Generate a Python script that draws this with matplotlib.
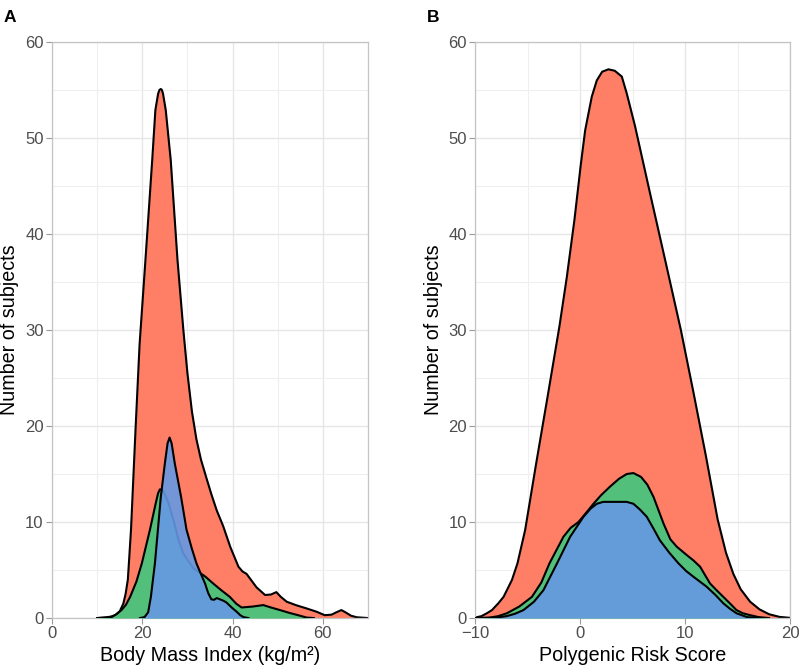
import matplotlib
matplotlib.use("Agg")
import matplotlib.pyplot as plt
from matplotlib.ticker import MultipleLocator

plt.rcParams["font.family"] = ["Liberation Sans", "DejaVu Sans"]

# --- Panel A: Body Mass Index densities ---
bmi_red_x = [10, 11.7, 13.0, 14.0, 15.0, 15.8, 16.3, 16.8, 17.1, 17.5, 18.5, 19.4, 20.7,
             22.2, 22.9, 23.5, 23.8, 24.1, 24.35, 24.6, 25.2, 26.3, 27.8, 29.1, 30.0,
             31.0, 32.0, 33.0, 34.2, 35.3, 36.5, 37.9, 39.5, 41.3, 42.2, 43.1, 44.2,
             45.3, 47.2, 48.5, 49.7, 50.7, 52.0, 54.0, 56.4, 58.6, 60.4, 61.9, 63.0,
             64.1, 65.0, 66.2, 67.5, 70]
bmi_red_y = [0, 0.05, 0.15, 0.3, 0.7, 1.5, 2.5, 4.0, 6.2, 9.2, 19.6, 28.5, 37.3,
             47.7, 52.9, 54.6, 55.0, 55.1, 55.0, 54.6, 52.9, 47.7, 37.3, 30.0, 25.5,
             21.5, 18.6, 16.5, 14.6, 12.9, 11.2, 9.6, 7.4, 5.35, 4.85, 4.6, 3.9,
             3.2, 2.4, 2.45, 2.7, 2.2, 1.7, 1.35, 1.0, 0.66, 0.3, 0.35, 0.6,
             0.83, 0.6, 0.25, 0.08, 0]

bmi_green_x = [10, 13.2, 14.3, 15.4, 16.4, 17.3, 18.7, 19.9, 21.7, 23.0, 23.5, 23.9,
               24.4, 24.8, 25.8, 26.9, 28.0, 29.1, 31.3, 32.8, 34.0, 35.7, 37.5,
               39.4, 40.8, 42.0, 44.5, 46.8, 48.5, 50.5, 52.5, 54.5, 56.4, 58]
bmi_green_y = [0, 0.1, 0.4, 0.83, 1.4, 2.2, 3.8, 5.7, 9.2, 12.0, 13.0, 13.4,
               13.35, 13.1, 12.0, 10.2, 8.2, 6.7, 5.2, 4.7, 4.3, 3.6, 2.9,
               2.2, 1.5, 1.1, 1.2, 1.35, 1.1, 0.83, 0.55, 0.3, 0.05, 0]

bmi_blue_x = [19.5, 20.5, 21.3, 21.9, 22.8, 24.1, 25.0, 25.6, 26.05, 26.5, 27.2, 28.6,
              29.8, 31.0, 32.0, 32.8, 33.9, 34.6, 35.3, 35.9, 36.5, 37.2, 38.0, 38.7,
              39.8, 40.9, 41.7, 42.4, 43.5]
bmi_blue_y = [0, 0.1, 0.6, 2.2, 5.7, 12.6, 16.1, 18.2, 18.8, 18.2, 16.1, 12.6,
              9.2, 7.2, 5.7, 4.8, 3.6, 2.6, 1.95, 1.9, 2.08, 1.95, 1.8, 1.6,
              1.1, 0.66, 0.3, 0.1, 0]

# --- Panel B: Polygenic Risk Score densities ---
prs_red_x = [-10, -9.4, -8.9, -8.4, -7.8, -7.3, -6.5, -5.97, -5.24, -4.19, -3.11,
             -1.97, -1.27, -0.54, 0.06, 0.48, 1.11, 1.59, 2.1, 2.7, 3.3, 3.97, 4.44,
             5.24, 6.67, 8.1, 9.6, 10.8, 12.0, 13.1, 13.9, 14.6, 15.3, 16.2,
             17.1, 18.0, 19.0, 20]
prs_red_y = [0.05, 0.2, 0.49, 0.83, 1.53, 2.2, 3.96, 5.7, 9.17, 16.1, 23.0,
             30.4, 35.5, 41.5, 47.2, 50.8, 54.3, 56.0, 56.9, 57.15, 57.0, 56.4, 54.65,
             51.2, 44.2, 37.3, 30.0, 23.5, 16.8, 10.3, 6.8, 4.6, 3.0, 1.7,
             0.9, 0.4, 0.12, 0.02]

prs_green_x = [-10, -8.6, -7.8, -6.98, -5.8, -4.6, -3.7, -2.92, -2.2, -1.59, -0.9,
               -0.16, 0.6, 1.27, 2.0, 2.86, 3.7, 4.44, 5.08, 5.8, 6.4, 7.0, 7.94,
               8.6, 9.21, 10.16, 10.8, 11.43, 12.38, 13.0, 13.65, 14.3, 14.9, 15.5,
               16.2, 17.0, 18]
prs_green_y = [0, 0.05, 0.2, 0.5, 1.2, 2.2, 3.7, 5.7, 7.2, 8.47, 9.4,
               10.0, 11.0, 11.9, 12.8, 13.7, 14.5, 15.0, 15.1, 14.7, 13.9, 12.6, 9.86,
               8.2, 7.43, 6.56, 6.0, 5.35, 3.6, 2.9, 2.2, 1.5, 0.83, 0.5,
               0.3, 0.1, 0]

prs_blue_x = [-9, -8, -7, -6.2, -5.4, -4.4, -3.5, -2.2, -0.95, 0.32, 1.0, 1.59, 2.2,
              3.5, 4.44, 5.08, 5.7, 6.35, 7.0, 7.6, 8.5, 9.37, 10.1, 10.8, 12.06,
              12.9, 13.65, 14.3, 14.9, 15.9, 17]
prs_blue_y = [0, 0.05, 0.2, 0.45, 0.83, 1.7, 2.9, 5.7, 8.47, 10.55, 11.4, 11.9, 12.1,
              12.1, 12.1, 11.9, 11.3, 10.55, 9.3, 8.1, 6.8, 5.7, 4.9, 4.3, 3.26,
              2.4, 1.53, 0.95, 0.5, 0.1, 0]

RED, GREEN, BLUE = "#FF7E66", "#52C07A", "#6598E3"
GRID = "#E6E6E6"
FRAME = "#C4C4C4"


def style_axes(ax, xlim, xmajor, xlabel):
    ax.set_xlim(*xlim)
    ax.set_ylim(0, 60)
    ax.xaxis.set_major_locator(MultipleLocator(xmajor))
    ax.xaxis.set_minor_locator(MultipleLocator(xmajor / 2))
    ax.yaxis.set_major_locator(MultipleLocator(10))
    ax.yaxis.set_minor_locator(MultipleLocator(5))
    ax.grid(which="major", color=GRID, linewidth=1.0)
    ax.grid(which="minor", color="#EFEFEF", linewidth=0.8)
    ax.set_axisbelow(True)
    for side in ax.spines.values():
        side.set_color(FRAME)
        side.set_linewidth(0.9)
    ax.tick_params(which="major", direction="out", length=4, width=0.8,
                   color="#999999", labelcolor="#4D4D4D", labelsize=12, pad=2)
    ax.tick_params(which="minor", length=0)
    ax.set_xlabel(xlabel, fontsize=14.2, labelpad=3)
    ax.set_ylabel("Number of subjects", fontsize=14.2, labelpad=4)


def density(ax, x, y, color, alpha=1.0, z=2):
    ax.fill_between(x, y, 0, color=color, alpha=alpha, linewidth=0, zorder=z)
    ax.plot(x, y, color="black", linewidth=1.5, zorder=z + 0.5,
            solid_joinstyle="round")


fig = plt.figure(figsize=(8, 6.66), dpi=100)
ax_a = fig.add_axes([0.065, 0.072, 0.395, 0.865])
ax_b = fig.add_axes([0.594, 0.072, 0.3935, 0.865])

density(ax_a, bmi_red_x, bmi_red_y, RED, z=2)
density(ax_a, bmi_green_x, bmi_green_y, GREEN, z=3)
density(ax_a, bmi_blue_x, bmi_blue_y, BLUE, alpha=0.9, z=4)
style_axes(ax_a, (0, 70), 20, "Body Mass Index (kg/m²)")

density(ax_b, prs_red_x, prs_red_y, RED, z=2)
density(ax_b, prs_green_x, prs_green_y, GREEN, z=3)
density(ax_b, prs_blue_x, prs_blue_y, BLUE, alpha=0.9, z=4)
style_axes(ax_b, (-10, 20), 10, "Polygenic Risk Score")

fig.text(0.004, 0.973, "A", fontsize=12.5, fontweight="bold", va="center", ha="left")
fig.text(0.534, 0.973, "B", fontsize=12.5, fontweight="bold", va="center", ha="left")

fig.savefig("out.png", dpi=100)
